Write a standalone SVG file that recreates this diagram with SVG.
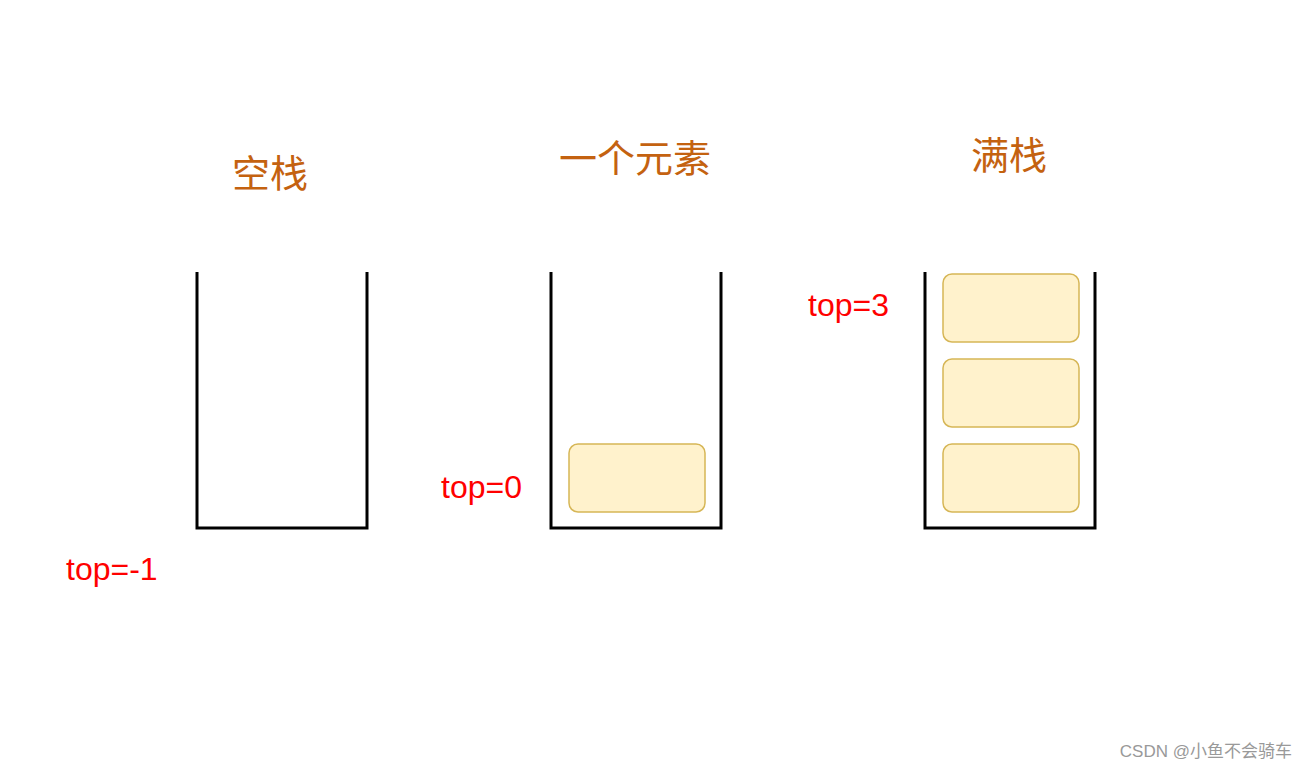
<svg xmlns="http://www.w3.org/2000/svg" width="1308" height="770" viewBox="0 0 1308 770">
<style>
.stack{fill:none;stroke:#000;stroke-width:3}
.box{fill:#fff2cc;stroke:#d6b656;stroke-width:1.5}
.title{font-family:"Noto Sans CJK SC",sans-serif;font-size:38px;fill:#c46210;text-anchor:middle}
.lbl{font-family:"Liberation Sans",Arial,sans-serif;font-size:32px;fill:#ff0000}
</style>
<rect width="1308" height="770" fill="#fff"/>
<g id="empty">
<text class="title" x="270" y="187">空栈</text>
<polyline class="stack" points="197,272 197,528 367,528 367,272"/>
<text class="lbl" x="66" y="580">top=-1</text>
</g>
<g id="one">
<text class="title" x="635" y="172">一个元素</text>
<polyline class="stack" points="551,272 551,528 721,528 721,272"/>
<rect class="box" x="569" y="444" width="136" height="68" rx="9"/>
<text class="lbl" x="441" y="498">top=0</text>
</g>
<g id="full">
<text class="title" x="1009" y="169">满栈</text>
<polyline class="stack" points="925,272 925,528 1095,528 1095,272"/>
<rect class="box" x="943" y="274" width="136" height="68" rx="9"/>
<rect class="box" x="943" y="359" width="136" height="68" rx="9"/>
<rect class="box" x="943" y="444" width="136" height="68" rx="9"/>
<text class="lbl" x="808" y="316">top=3</text>
</g>
<g id="connectors"/>
<text x="1292" y="757" text-anchor="end" font-family="'Liberation Sans','Noto Sans CJK SC',sans-serif" font-size="17" fill="#999">CSDN @小鱼不会骑车</text>
</svg>
